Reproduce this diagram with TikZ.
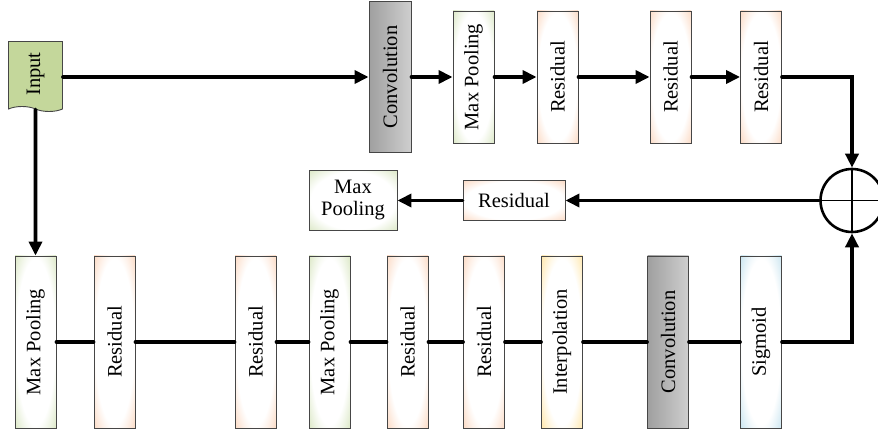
\documentclass[tikz,border=0pt]{standalone}
\usepackage{fontspec}
\setmainfont{Liberation Serif}
\usetikzlibrary{positioning, arrows.meta, shapes.symbols}

\definecolor{resc}{RGB}{250,204,174}
\definecolor{poolc}{RGB}{206,223,176}
\definecolor{interc}{RGB}{255,222,140}
\definecolor{sigc}{RGB}{182,219,234}
\definecolor{inc}{RGB}{196,215,155}
\definecolor{edgec}{RGB}{70,70,70}

\pgfdeclareradialshading{resglow}{\pgfpoint{0bp}{0bp}}{color(0bp)=(white); color(24bp)=(white); color(40bp)=(resc); color(50bp)=(resc)}
\pgfdeclareradialshading{poolglow}{\pgfpoint{0bp}{0bp}}{color(0bp)=(white); color(24bp)=(white); color(40bp)=(poolc); color(50bp)=(poolc)}
\pgfdeclareradialshading{interglow}{\pgfpoint{0bp}{0bp}}{color(0bp)=(white); color(24bp)=(white); color(40bp)=(interc); color(50bp)=(interc)}
\pgfdeclareradialshading{sigglow}{\pgfpoint{0bp}{0bp}}{color(0bp)=(white); color(24bp)=(white); color(40bp)=(sigc); color(50bp)=(sigc)}

\begin{document}
\begin{tikzpicture}[x=1pt, y=1pt, on grid,
    font=\fontsize{20.5}{22}\selectfont,
    >={Triangle[length=14pt,width=13pt]},
    box/.style={draw=edgec, line width=0.9pt, inner sep=0pt, minimum width=41pt},
    tall/.style={box, minimum height=172pt},
    short/.style={box, minimum height=132pt},
    res/.style={shade, shading=resglow},
    pool/.style={shade, shading=poolglow},
    interp/.style={shade, shading=interglow},
    sig/.style={shade, shading=sigglow},
    grey/.style={left color=gray!75, right color=gray!38},
    link/.style={line width=3.6pt, line cap=round}]
    \useasboundingbox (0,0) rectangle (878,434);
    \clip (0,0) rectangle (878,434);

    \node[draw=edgec, line width=0.9pt, fill=inc, tape, tape bend top=none, tape bend bottom=out and in,
          minimum width=54pt, minimum height=70pt, inner sep=0pt] (input) at (35.5,360) {\rotatebox{90}{Input}};

    \node[box, grey, minimum width=42pt, minimum height=151pt] (conv1) at (390,357) {\rotatebox{90}{Convolution}};
    \node[short, pool] (pool1) [right=83.5pt of conv1] {\rotatebox{90}{Max Pooling}};
    \node[short, res] (res1) [right=84pt of pool1] {\rotatebox{90}{Residual}};
    \node[short, res] (res2) [right=113pt of res1] {\rotatebox{90}{Residual}};
    \node[short, res] (res3) [right=90.5pt of res2] {\rotatebox{90}{Residual}};

    \node[draw, circle, line width=2.6pt, minimum size=63pt, inner sep=0pt] (sum) at (852,233.5) {};
    \draw[line width=1.8pt] (sum.north) -- (sum.south) (sum.west) -- (sum.east);

    \node[box, res, minimum width=102pt, minimum height=40pt] (res4) at (514,233.5) {Residual};
    \node[box, pool, minimum width=88pt, minimum height=60pt, align=center] (pool2) at (353,233.5) {Max\\Pooling};

    \node[tall, pool] (pool3) at (35.5,92) {\rotatebox{90}{Max Pooling}};
    \node[tall, res] (res5) [right=79pt of pool3] {\rotatebox{90}{Residual}};
    \node[tall, res] (res6) [right=141pt of res5] {\rotatebox{90}{Residual}};
    \node[tall, pool] (pool4) [right=74pt of res6] {\rotatebox{90}{Max Pooling}};
    \node[tall, res] (res7) [right=78pt of pool4] {\rotatebox{90}{Residual}};
    \node[tall, res] (res8) [right=76.5pt of res7] {\rotatebox{90}{Residual}};
    \node[tall, interp] (interp1) [right=78pt of res8] {\rotatebox{90}{Interpolation}};
    \node[tall, grey] (conv2) [right=106pt of interp1] {\rotatebox{90}{Convolution}};
    \node[tall, sig] (sig1) [right=93pt of conv2] {\rotatebox{90}{Sigmoid}};

    \path[link, ->]
    (input.east |- conv1) edge (conv1)
    (conv1) edge (pool1)
    (pool1) edge (res1)
    (res1) edge (res2)
    (res2) edge (res3)
    (sum) edge (res4)
    (res4) edge (pool2)
    (input) edge (pool3);

    \path[link]
    (pool3) edge (res5)
    (res5) edge (res6)
    (res6) edge (pool4)
    (pool4) edge (res7)
    (res7) edge (res8)
    (res8) edge (interp1)
    (interp1) edge (conv2)
    (conv2) edge (sig1);

    \draw[link, ->] (res3) -| (sum.north);
    \draw[link, ->] (sig1) -| (sum.south);
\end{tikzpicture}
\end{document}
